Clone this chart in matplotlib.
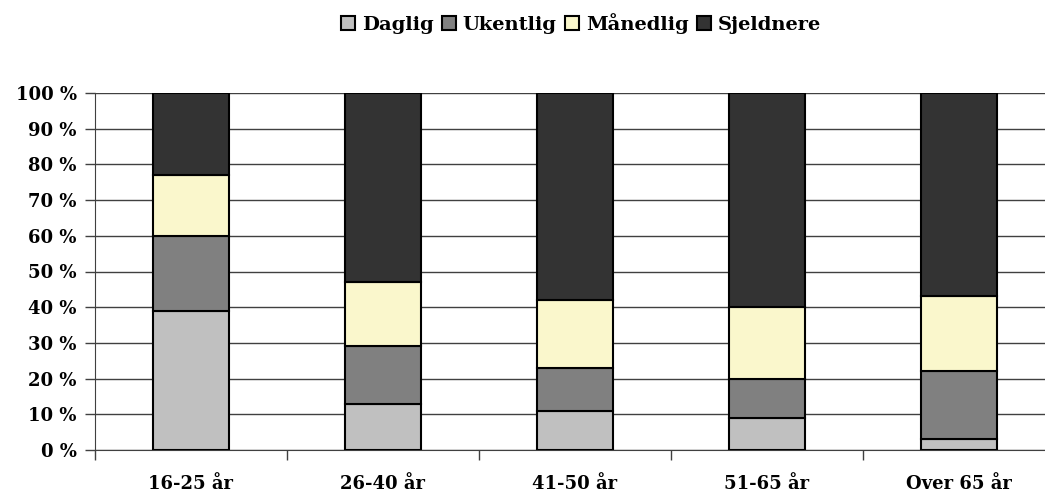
import numpy as np
import matplotlib.pyplot as plt

categories = ['16-25 år', '26-40 år', '41-50 år', '51-65 år', 'Over 65 år']
series_names = ['Daglig', 'Ukentlig', 'Månedlig', 'Sjeldnere']
daglig = [39, 13, 11, 9, 3]
ukentlig = [21, 16, 12, 11, 19]
maanedlig = [17, 18, 19, 20, 21]
sjeldnere = [23, 53, 58, 60, 57]
colors = ['#C0C0C0', '#808080', '#FAF7CC', '#333333']

plt.rcParams['font.family'] = ['DejaVu Serif']
plt.rcParams['font.weight'] = 'bold'

fig = plt.figure(figsize=(10.45, 4.98), dpi=100)
ax = fig.add_axes([95 / 1045, 1 - 450 / 498, 960 / 1045, 357 / 498])

x = np.arange(len(categories))
bottom = np.zeros(len(categories))
for name, vals, col in zip(series_names, [daglig, ukentlig, maanedlig, sjeldnere], colors):
    ax.bar(x, vals, width=0.4, bottom=bottom, color=col, edgecolor='black',
           linewidth=1.5, label=name, zorder=3)
    bottom += np.array(vals)

ax.set_xlim(-0.5, len(categories) - 0.5)
ax.set_ylim(0, 100)
ax.set_yticks(range(0, 101, 10))
ax.set_yticklabels(['%d %%' % v for v in range(0, 101, 10)], fontsize=13, fontweight='bold')
ax.yaxis.grid(True, color='#404040', linewidth=1)
ax.set_axisbelow(True)

ax.set_xticks(np.arange(-0.5, len(categories), 1))
ax.set_xticklabels([])
ax.set_xticks(x, minor=True)
ax.set_xticklabels(categories, minor=True, fontsize=13, fontweight='bold')
ax.tick_params(axis='x', which='minor', length=0, pad=18)
ax.tick_params(axis='x', which='major', length=7, width=1, color='#404040')
ax.tick_params(axis='y', length=7, width=1, color='#404040', pad=6)

for side in ['top', 'right']:
    ax.spines[side].set_visible(False)
ax.spines['left'].set_color('#404040')
ax.spines['bottom'].set_color('#404040')

fig.legend(loc='upper center', bbox_to_anchor=(0.556, 0.99), ncol=4, frameon=False,
           borderaxespad=0, handlelength=0.7, handleheight=0.7, handletextpad=0.35,
           columnspacing=0.45, prop={'size': 14, 'weight': 'bold'})

fig.savefig('out.png', dpi=100)
